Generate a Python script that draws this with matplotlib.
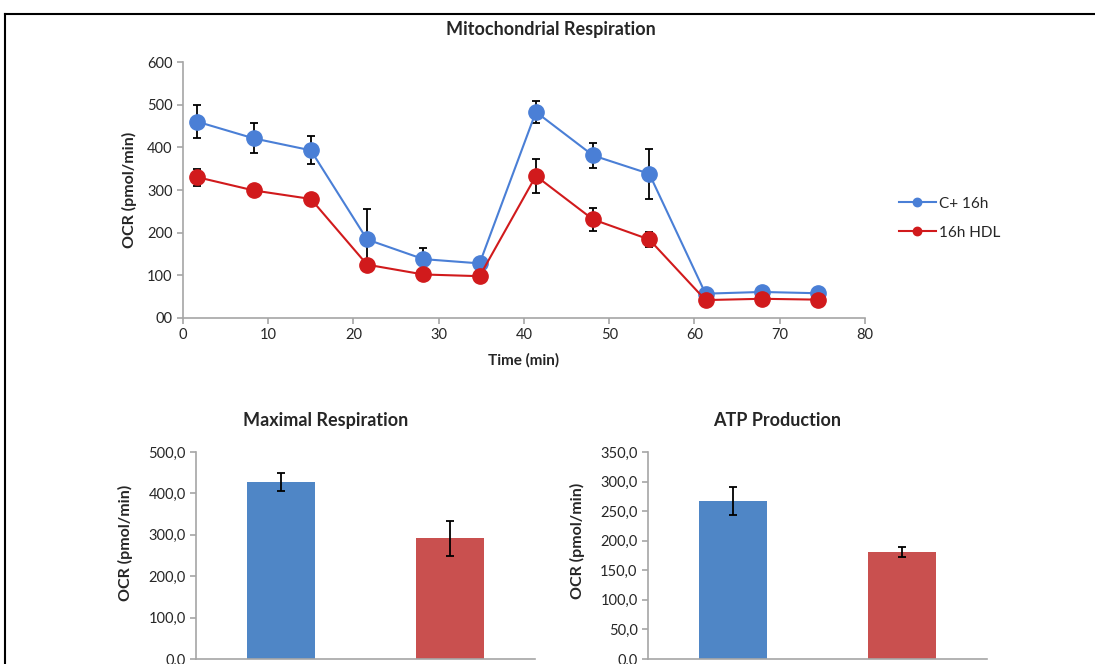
import numpy as np
import matplotlib
matplotlib.use("Agg")
import matplotlib.pyplot as plt
from matplotlib.ticker import FuncFormatter

plt.rcParams["font.family"] = ["Lato", "DejaVu Sans"]

# ---- data ----
time_min = [1.7, 8.3, 15.0, 21.6, 28.2, 34.8, 41.4, 48.1, 54.7, 61.3, 67.9, 74.5]
ctrl_ocr = [460, 421, 393, 184, 138, 128, 483, 381, 338, 57, 61, 58]
ctrl_err = [39, 35, 33, 72, 27, 13, 25, 29, 58, 5, 5, 5]
hdl_ocr = [330, 299, 279, 125, 102, 98, 333, 231, 184, 42, 45, 43]
hdl_err = [20, 5, 5, 5, 5, 5, 40, 26, 18, 4, 4, 4]
series_names = ["C+ 16h", "16h HDL"]

maxresp_vals = [428, 292]
maxresp_err = [22, 42]
atp_vals = [267, 181]
atp_err = [24, 9]

LINE_BLUE = "#4a7fd6"
LINE_RED = "#d11a1c"
BAR_BLUE = "#4f86c6"
BAR_RED = "#c9504f"
AXCOL = "#a6a6a6"
TXT = "#262626"

fig = plt.figure(figsize=(10.95, 6.64), dpi=100)


def excel_axes(ax):
    for s in ("top", "right"):
        ax.spines[s].set_visible(False)
    for s in ("left", "bottom"):
        ax.spines[s].set_color(AXCOL)
        ax.spines[s].set_linewidth(1.2)
    ax.tick_params(colors=AXCOL, labelcolor=TXT, labelsize=10.5, length=4, width=1.2)


# ---- top line chart ----
ax = fig.add_axes([0.1671, 0.5211, 0.6228, 0.3855])
excel_axes(ax)
for y, e, col, name in [(ctrl_ocr, ctrl_err, LINE_BLUE, series_names[0]),
                        (hdl_ocr, hdl_err, LINE_RED, series_names[1])]:
    ax.errorbar(time_min, y, yerr=e, fmt="none", ecolor="black", elinewidth=1.3,
                capsize=3, capthick=1.3, zorder=2)
    ax.plot(time_min, y, "-o", color=col, lw=1.5, ms=11, mec=col, label=name, zorder=3)
ax.set_xlim(0, 80)
ax.set_ylim(0, 600)
ax.set_xticks(range(0, 81, 10))
ax.set_yticks(range(0, 601, 100))
ax.yaxis.set_major_formatter(FuncFormatter(lambda v, p: "00" if v == 0 else f"{v:.0f}"))
ax.set_xlabel("Time (min)", fontsize=11, fontweight="bold", color=TXT, labelpad=8)
ax.set_ylabel("OCR (pmol/min)", fontsize=11.5, fontweight="bold", color=TXT)
ax.yaxis.set_label_coords(-0.067, 0.5)
ax.legend(loc="center left", bbox_to_anchor=(1.03, 0.39), frameon=False, fontsize=11,
          handlelength=2.4, markerscale=0.55, labelspacing=1.0, handletextpad=0.2,
          labelcolor=TXT)
fig.text(0.503, 0.956, "Mitochondrial Respiration", ha="center", va="center",
         fontsize=13, fontweight="bold", color=TXT)

# ---- bottom bar charts ----
comma = FuncFormatter(lambda v, p: f"{v:.1f}".replace(".", ","))
cats = [0, 1]
for rect, vals, errs, ymax, step, title, tx, ly in [
        ([0.179, 0.0075, 0.3096, 0.3118], maxresp_vals, maxresp_err, 500, 100,
         "Maximal Respiration", 0.297, 0.56),
        ([0.5918, 0.0075, 0.3096, 0.3118], atp_vals, atp_err, 350, 50,
         "ATP Production", 0.7096, 0.57)]:
    bx = fig.add_axes(rect)
    excel_axes(bx)
    bx.bar(cats, vals, width=0.4, color=[BAR_BLUE, BAR_RED], zorder=2)
    bx.errorbar(cats, vals, yerr=errs, fmt="none", ecolor="black", elinewidth=1.3,
                capsize=3, capthick=1.3, zorder=3)
    bx.set_xlim(-0.5, 1.5)
    bx.set_ylim(0, ymax)
    bx.set_yticks(np.arange(0, ymax + 1, step))
    bx.yaxis.set_major_formatter(comma)
    bx.set_xticks([])
    bx.set_ylabel("OCR (pmol/min)", fontsize=11.5, fontweight="bold", color=TXT)
    bx.yaxis.set_label_coords(-0.186, ly)
    fig.text(tx, 0.367, title, ha="center", va="center", fontsize=13,
             fontweight="bold", color=TXT)

# ---- outer frame ----
fig.add_artist(plt.Line2D([0.005, 1.0], [0.979, 0.979], color="black", lw=1.5))
fig.add_artist(plt.Line2D([0.005, 0.005], [0.0, 0.979], color="black", lw=1.5))

fig.savefig("out.png", dpi=100)
